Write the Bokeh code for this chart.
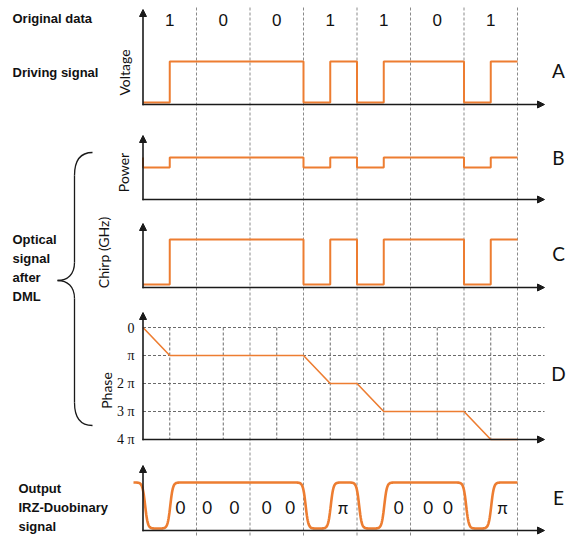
import math
import numpy as np
from bokeh.plotting import figure
from bokeh.models import Range1d, Arrow, NormalHead
from bokeh.core.properties import value
from bokeh.embed import file_html
from bokeh.resources import INLINE

# ---------------- data ----------------
bits = ["1", "0", "0", "1", "1", "0", "1"]
# levels per half bit (two per bit), 0 = low, 1 = high
voltage = [0, 1, 1, 1, 1, 1, 0, 1, 0, 1, 1, 1, 0, 1]
power = [0, 1, 1, 1, 1, 1, 0, 1, 0, 1, 1, 1, 0, 1]
power_start = 1
chirp = [0, 1, 1, 1, 1, 1, 0, 1, 0, 1, 1, 1, 0, 1]
# phase (in units of pi) at every half-bit instant 0, 0.5, ... 7
phase = [0, 1, 1, 1, 1, 1, 1, 2, 2, 3, 3, 3, 3, 4, 4]
phase_ticks = ["0", "π", "2 π", "3 π", "4 π"]
output_levels = [0, 1, 1, 1, 1, 1, 0, 1, 0, 1, 1, 1, 0, 1]
output_start = 1
output_marks = ["0", "0", "0", "0", "0", "π", "0", "0", "0", "π"]
output_mark_pos = [0.70, 1.20, 1.71, 2.31, 2.75, 3.74, 4.78, 5.33, 5.70, 6.72]
panel_letters = ["A", "B", "C", "D", "E"]
left_labels = ["Original data", "Driving signal"]
optical_label = ["Optical", "signal", "after", "DML"]
output_label = ["Output", "IRZ-Duobinary", "signal"]
axis_titles = ["Voltage", "Power", "Chirp (GHz)", "Phase"]

# ---------------- layout ----------------
W, H = 567, 537
X0, T = 142.5, 53.5          # pixel of t=0 and pixels per bit


def xt(px):
    return (px - X0) / T


ORANGE = "#ED7D31"
AXC = "#1a1a1a"

p = figure(width=W, height=H, x_range=Range1d(xt(0), xt(W)), y_range=Range1d(H, 0),
           output_backend="svg", toolbar_location=None, min_border=0,
           x_axis_type=None, y_axis_type=None)
p.grid.visible = False
p.outline_line_color = None
p.background_fill_color = "white"
p.border_fill_color = "white"

nb = len(bits)
half_t = np.arange(2 * nb + 1) * 0.5

# bit boundary dashed lines
bounds = list(range(1, nb + 1))
p.segment(x0=bounds, y0=[7] * nb, x1=bounds, y1=[H] * nb,
          line_color="#8a8a8a", line_width=1, line_dash="3 2")

# panels: base, top
bases = [104, 199, 287, 439, 530]
tops = [9, 135, 223, 312, 465]
x_end = xt(544)

# ---- D grid ----
D_zero, D_step = 327, 28
grid_y = [D_zero + D_step * k for k in range(4)]
p.segment(x0=[0] * 4, y0=grid_y, x1=[x_end] * 4, y1=grid_y,
          line_color="#6a6a6a", line_width=1, line_dash="3 2")
half_lines = [i + 0.5 for i in range(nb)]
p.segment(x0=half_lines, y0=[D_zero] * nb, x1=half_lines, y1=[bases[3]] * nb,
          line_color="#6a6a6a", line_width=1, line_dash="3 2")


def levels_to_y(levels, low, high):
    return [low + (high - low) * v for v in levels]


# ---- A voltage ----
yA = levels_to_y(voltage + [voltage[-1]], 102, 61)
p.step(list(half_t), yA, mode="after", line_color=ORANGE, line_width=2)

# ---- B power ----
yB = levels_to_y([power_start] + power + [power[-1]], 167, 157)
p.step([0.0] + list(half_t), yB, mode="after", line_color=ORANGE, line_width=2)

# ---- C chirp ----
yC = levels_to_y(chirp + [chirp[-1]], 284, 239)
p.step(list(half_t), yC, mode="after", line_color=ORANGE, line_width=2)

# ---- D phase ----
yD = [D_zero + D_step * v for v in phase]
p.line(list(half_t), yD, line_color=ORANGE, line_width=1.6)

# ---- E output (smoothed edges) ----
tt = np.linspace(xt(133), float(nb), 900)
v = np.full_like(tt, float(output_start))
prev = output_start
s = 0.05
for k, L in enumerate(output_levels):
    if L != prev:
        edge = k * 0.5 + (0.04 if L < prev else 0.01)
        v += (L - prev) * 0.5 * (1 + np.tanh((tt - edge) / s))
    prev = L
yE = 528 + (482 - 528) * v
p.line(tt, yE, line_color=ORANGE, line_width=2.6)

# ---- axes with arrows ----
for b, t_ in zip(bases, tops):
    p.add_layout(Arrow(end=NormalHead(size=7, fill_color=AXC, line_color=AXC, line_width=1),
                       x_start=0, y_start=b + 0.8, x_end=0, y_end=t_,
                       line_color=AXC, line_width=1.6))
    p.add_layout(Arrow(end=NormalHead(size=7, fill_color=AXC, line_color=AXC, line_width=1),
                       x_start=-0.01, y_start=b, x_end=x_end, y_end=b,
                       line_color=AXC, line_width=1.6))

# ---- texts ----
p.text(x=[i + 0.5 for i in range(nb)], y=[19] * nb, text=bits,
       text_font=value("Liberation Sans"), text_font_size="17px",
       text_align="center", text_baseline="middle", text_color="#111")

p.text(x=[xt(12)] * 2, y=[18, 72], text=left_labels,
       text_font=value("Liberation Sans"), text_font_size="13px", text_font_style="bold",
       text_align="left", text_baseline="middle", text_color="#111")
p.text(x=[xt(12)] * 4, y=[239, 258, 277, 296], text=optical_label,
       text_font=value("Liberation Sans"), text_font_size="13px", text_font_style="bold",
       text_align="left", text_baseline="middle", text_color="#111")
p.text(x=[xt(18)] * 3, y=[488, 507, 526], text=output_label,
       text_font=value("Liberation Sans"), text_font_size="13px", text_font_style="bold",
       text_align="left", text_baseline="middle", text_color="#111")

p.text(x=[xt(124), xt(123), xt(103), xt(106)], y=[72, 172, 252, 390], text=axis_titles,
       angle=math.pi / 2,
       text_font=value("Lato"), text_font_size="14px",
       text_align="center", text_baseline="middle", text_color="#111")

p.text(x=[xt(134)] * 5, y=[D_zero + D_step * k for k in range(5)], text=phase_ticks,
       text_font=value("Liberation Serif"), text_font_size="14px",
       text_align="right", text_baseline="middle", text_color="#111")

p.text(x=[xt(558)] * 5, y=[70, 157, 253, 373, 497], text=panel_letters,
       text_font=value("Lato"), text_font_size="19px",
       text_align="center", text_baseline="middle", text_color="#111")

p.text(x=output_mark_pos, y=[507] * len(output_marks), text=output_marks,
       text_font=value("Lato"), text_font_size="17px",
       text_align="center", text_baseline="middle", text_color="#111")

# ---- curly brace ----
bx_tip, bx_mid, bx_end = xt(57), xt(74), xt(92)
p.bezier(x0=[bx_end, bx_mid, bx_tip, bx_mid],
         y0=[152, 262, 280, 402],
         x1=[bx_mid, bx_tip, bx_mid, bx_end],
         y1=[175, 280, 298, 425],
         cx0=[xt(80), bx_mid, xt(67), bx_mid],
         cy0=[152, 274, 280, 418],
         cx1=[bx_mid, xt(67), bx_mid, xt(80)],
         cy1=[160, 280, 286, 425],
         line_color=AXC, line_width=1.3)
p.segment(x0=[bx_mid, bx_mid], y0=[175, 298], x1=[bx_mid, bx_mid], y1=[262, 402],
          line_color=AXC, line_width=1.3)

open("out.html", "w").write(file_html(p, INLINE))
